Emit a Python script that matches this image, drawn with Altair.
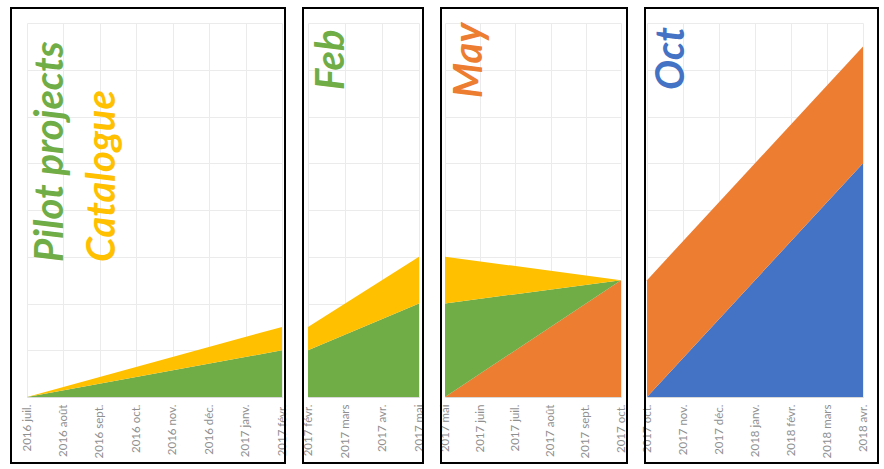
import altair as alt
import pandas as pd

# Month tick labels (index 0 = 2016 juil.)
months = ["2016 juil.", "2016 août", "2016 sept.", "2016 oct.", "2016 nov.", "2016 déc.",
          "2017 janv.", "2017 févr.", "2017 mars", "2017 avr.", "2017 mai", "2017 juin",
          "2017 juil.", "2017 août", "2017 sept.", "2017 oct.", "2017 nov.", "2017 déc.",
          "2018 janv.", "2018 févr.", "2018 mars", "2018 avr."]

# series, bottom of stack to top
series = ["Oct", "May", "Pilot projects", "Catalogue"]
colors = ["#4472C4", "#ED7D31", "#70AD47", "#FFC000"]

# panel 1 : 2016 juil. -> 2017 févr.
p1_months = ["2016 juil.", "2017 févr."]
p1_pilot = [0.0, 1.0]
p1_catalogue = [0.0, 0.5]
# panel 2 (Feb) : 2017 févr. -> 2017 mai
p2_months = ["2017 févr.", "2017 mai"]
p2_pilot = [1.0, 2.0]
p2_catalogue = [0.5, 1.0]
# panel 3 (May) : 2017 mai -> 2017 oct.
p3_months = ["2017 mai", "2017 oct."]
p3_may = [0.0, 2.5]
p3_pilot = [2.0, 0.0]
p3_catalogue = [1.0, 0.0]
# panel 4 (Oct) : 2017 oct. -> 2018 avr.
p4_months = ["2017 oct.", "2018 avr."]
p4_oct = [0.0, 5.0]
p4_may = [2.5, 2.5]

panel_ranges = [("2016 juil.", "2017 févr."), ("2017 févr.", "2017 mai"),
                ("2017 mai", "2017 oct."), ("2017 oct.", "2018 avr.")]
panel_widths = [255, 111, 176, 216]
panel_height = 374

# big labels per panel: (text, color, x px, y px)
annotations = [
    [("Pilot projects", "#70AD47", 36, 239), ("Catalogue", "#FFC000", 88, 239)],
    [("Feb", "#70AD47", 36, 67)],
    [("May", "#ED7D31", 37, 75)],
    [("Oct", "#4472C4", 37, 67)],
]
# frame offsets (left, right-extra)
frame_left = [-16, -5, -4, -2]
frame_right = [3, 4, 6, 15]

rows = []
def add(panel, mlist, name, vals):
    for m, v in zip(mlist, vals):
        rows.append({"panel": panel, "m": months.index(m), "series": name,
                     "ord": series.index(name), "v": v})

add(0, p1_months, "Pilot projects", p1_pilot)
add(0, p1_months, "Catalogue", p1_catalogue)
add(1, p2_months, "Pilot projects", p2_pilot)
add(1, p2_months, "Catalogue", p2_catalogue)
add(2, p3_months, "May", p3_may)
add(2, p3_months, "Pilot projects", p3_pilot)
add(2, p3_months, "Catalogue", p3_catalogue)
add(3, p4_months, "Oct", p4_oct)
add(3, p4_months, "May", p4_may)
df = pd.DataFrame(rows)

label_expr = "[" + ",".join("'" + m + "'" for m in months) + "][datum.value]"


def panel(i):
    x0 = months.index(panel_ranges[i][0])
    x1 = months.index(panel_ranges[i][1])
    w = panel_widths[i]
    d = df[df.panel == i]
    area = alt.Chart(d).mark_area(opacity=1).encode(
        x=alt.X("m:Q", title=None,
                scale=alt.Scale(domain=[x0, x1], nice=False, zero=False),
                axis=alt.Axis(values=list(range(x0, x1 + 1)), labelExpr=label_expr,
                              labelAngle=270, labelFont="Lato", labelFontSize=11.5,
                              labelColor="#8f8f8f", labelPadding=7, ticks=False,
                              domainColor="#d9d9d9", gridColor="#ebebeb",
                              labelOverlap=False, labelBound=False, labelFlush=False)),
        y=alt.Y("v:Q", stack="zero", title=None,
                scale=alt.Scale(domain=[0, 8], nice=False),
                axis=alt.Axis(values=list(range(9)), labels=False, ticks=False,
                              domain=False, gridColor="#ebebeb")),
        color=alt.Color("series:N", scale=alt.Scale(domain=series, range=colors), legend=None),
        order=alt.Order("ord:Q"),
    )
    frame = alt.Chart(pd.DataFrame({"k": [0]})).mark_rect(
        fillOpacity=0, stroke="black", strokeWidth=2).encode(
        x=alt.value(frame_left[i]), x2=alt.value(w + frame_right[i]),
        y=alt.value(-15), y2=alt.value(panel_height + 66))
    layers = [area, frame]
    for (t, c, px, py) in annotations[i]:
        layers.append(
            alt.Chart(pd.DataFrame({"t": [t]})).mark_text(
                angle=270, align="left", baseline="alphabetic", font="Lato",
                fontSize=40, fontWeight="bold", fontStyle="italic", color=c).encode(
                text="t:N", x=alt.value(px), y=alt.value(py)))
    return alt.layer(*layers).properties(width=w, height=panel_height)


chart = alt.hconcat(panel(0), panel(1), panel(2), panel(3),
                    spacing=26, bounds="flush").properties(
    padding={"left": 10, "top": 7, "right": 0, "bottom": 0},
    background="white",
).resolve_scale(x="independent").configure_view(strokeWidth=0)

chart.save("out.html", embed_options={"renderer": "svg", "actions": False})
